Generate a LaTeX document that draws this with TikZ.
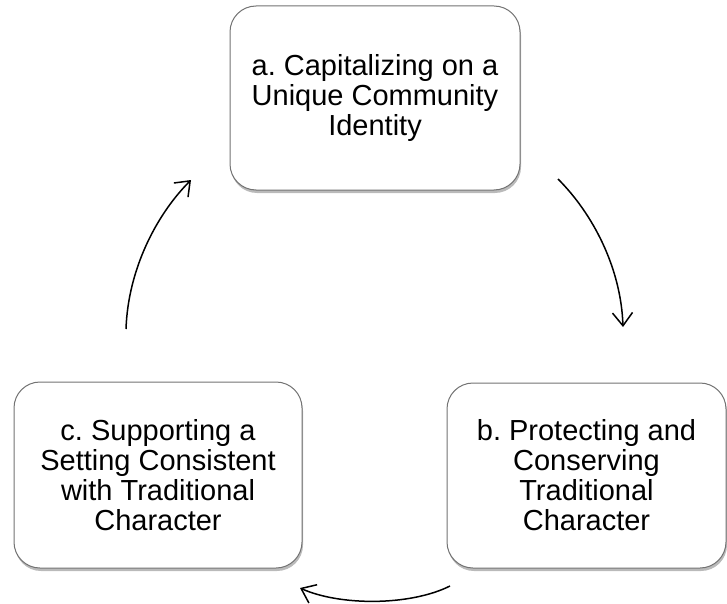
\documentclass[tikz,border=0pt]{standalone}
\usepackage{fontspec}
\setmainfont{Liberation Sans}
\usetikzlibrary{arrows.meta,shadows}
\frenchspacing
\begin{document}
\begin{tikzpicture}[x=1pt,y=-1pt,
  box/.style={draw=black!55, line width=1pt, fill=white, rounded corners=26pt,
    align=center, inner sep=0pt, font=\fontsize{29}{30}\selectfont,
    drop shadow={shadow xshift=1pt, shadow yshift=-3pt, fill=black!60, opacity=0.45}},
  flow/.style={line width=1.5pt, -{Straight Barb[length=13pt,width=20pt,line width=1.5pt]}}]
\useasboundingbox (0,0) rectangle (727,604);
\node[box, minimum width=290pt, minimum height=184pt] (a) at (375,98)
  {a. Capitalizing on a\\Unique Community\\Identity};
\node[box, minimum width=279pt, minimum height=185pt] (b) at (586.5,475.5)
  {b. Protecting and\\Conserving\\Traditional\\Character};
\node[box, minimum width=288pt, minimum height=186pt] (c) at (158,475)
  {c. Supporting a\\Setting Consistent\\with Traditional\\Character};
\coordinate (ab1) at (558,179);
\coordinate (ab2) at (623,327);
\coordinate (bc1) at (450,586);
\coordinate (bc2) at (300,588);
\coordinate (ca1) at (126,329);
\coordinate (ca2) at (191,180);
\draw[flow] (ab1) .. controls (593,214) and (621,268) .. (ab2);
\draw[flow] (bc1) .. controls (410,606) and (340,606) .. (bc2);
\draw[flow] (ca1) .. controls (128,270) and (156,215) .. (ca2);
\end{tikzpicture}
\end{document}
